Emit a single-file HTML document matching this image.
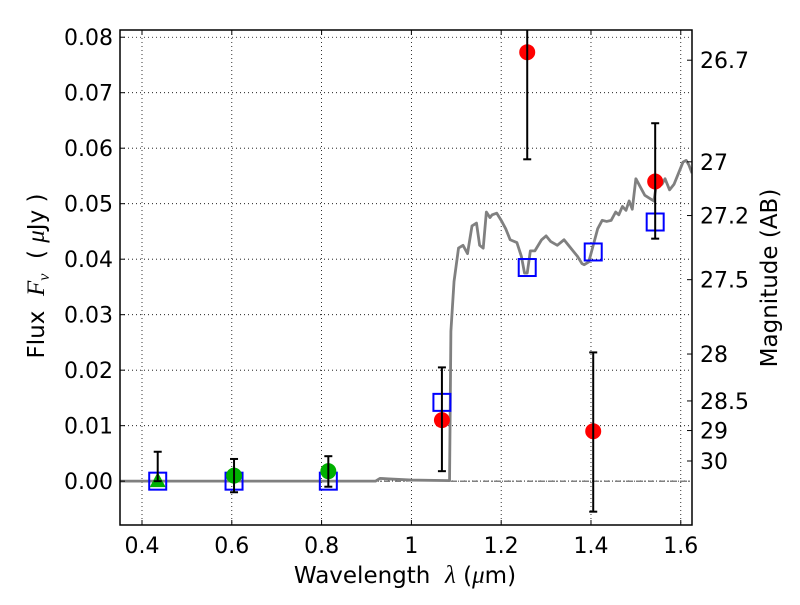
<!DOCTYPE html>
<html><head><meta charset="utf-8"><style>
body{margin:0;background:#fff}
svg{font-family:"DejaVu Sans","Liberation Sans",sans-serif}
</style></head><body>
<svg id="chart" width="800" height="600" xmlns="http://www.w3.org/2000/svg">
<rect width="800" height="600" fill="#fff"/>
<g id="grid"></g>
<g id="plot"></g>
<g id="axes"></g>
<text x="405" y="583" font-size="23" text-anchor="middle" xml:space="preserve">Wavelength  <tspan font-style="italic" font-family="Liberation Serif,serif" font-size="25">λ</tspan> (<tspan font-style="italic" font-family="Liberation Serif,serif" font-size="25">μ</tspan>m)</text>
<text transform="translate(44,276) rotate(-90)" font-size="23" text-anchor="middle" xml:space="preserve">Flux  <tspan font-style="italic" font-family="Liberation Serif,serif" font-size="25">F</tspan><tspan font-style="italic" font-family="Liberation Serif,serif" font-size="16" dy="5">ν</tspan><tspan dy="-5">  ( </tspan><tspan font-style="italic" font-family="Liberation Serif,serif" font-size="25">μ</tspan>Jy )</text>
<text transform="translate(777,278) rotate(-90)" font-size="23" text-anchor="middle">Magnitude (AB)</text>
</svg>
<script>
const xTicks=[0.4,0.6,0.8,1.0,1.2,1.4,1.6];
const xTickLabels=["0.4","0.6","0.8","1","1.2","1.4","1.6"];
const yTicks=[0,0.01,0.02,0.03,0.04,0.05,0.06,0.07,0.08];
const yTickLabels=["0.00","0.01","0.02","0.03","0.04","0.05","0.06","0.07","0.08"];
const magTicks=[26.7,27,27.2,27.5,28,28.5,29,30];
const magTickLabels=["26.7","27","27.2","27.5","28","28.5","29","30"];
const templateWave=[0.35,0.92,0.93,0.95,1.0,1.085,1.088,1.095,1.105,1.115,1.125,1.135,1.145,1.152,1.16,1.167,1.175,1.18,1.19,1.2,1.21,1.22,1.235,1.245,1.252,1.258,1.265,1.275,1.29,1.3,1.31,1.325,1.34,1.35,1.36,1.37,1.38,1.385,1.395,1.405,1.415,1.425,1.435,1.445,1.455,1.462,1.47,1.478,1.485,1.492,1.5,1.51,1.52,1.53,1.54,1.548,1.558,1.565,1.575,1.585,1.595,1.605,1.612,1.618,1.625];
const templateFlux=[0,0,0.0005,0.0004,0.0002,0.0001,0.027,0.036,0.042,0.0425,0.041,0.046,0.0465,0.0425,0.042,0.0485,0.0475,0.048,0.0483,0.047,0.0455,0.0435,0.043,0.0405,0.0375,0.0375,0.0415,0.0415,0.0435,0.0442,0.0432,0.0425,0.0435,0.0425,0.0415,0.0405,0.0392,0.039,0.0395,0.0425,0.0455,0.047,0.0468,0.047,0.0485,0.048,0.0495,0.0488,0.0505,0.049,0.0545,0.053,0.0515,0.051,0.0505,0.0545,0.0535,0.0545,0.0525,0.0535,0.0555,0.0575,0.0578,0.0570,0.0555];
const redWave=[1.068,1.258,1.405,1.543];
const redFlux=[0.011,0.0773,0.009,0.054];
const redLo=[0.0018,0.058,-0.0055,0.0437];
const redHi=[0.0205,0.09,0.0232,0.0645];
const greenWave=[0.435,0.605,0.815];
const greenFlux=[0.000,0.001,0.0018];
const greenLo=[0.000,-0.002,-0.001];
const greenHi=[0.0053,0.0040,0.0045];
const blueWave=[0.435,0.605,0.815,1.068,1.258,1.405,1.543];
const blueFlux=[0,0,0,0.0142,0.0385,0.0413,0.0467];

const L=120,R=692,T=30,B=525;
const xmin=0.351,xmax=1.625,ymin=-0.0079,ymax=0.0813;
const X=v=>L+(v-xmin)/(xmax-xmin)*(R-L);
const Y=v=>B-(v-ymin)/(ymax-ymin)*(B-T);
const NS="http://www.w3.org/2000/svg";
function mk(tag,attrs,parent){const e=document.createElementNS(NS,tag);for(const k in attrs)e.setAttribute(k,attrs[k]);parent.appendChild(e);return e;}
const grid=document.getElementById('grid'),plot=document.getElementById('plot'),axes=document.getElementById('axes');
xTicks.forEach((t,i)=>{
  const g=mk('line',{x1:X(t),x2:X(t),y1:T,y2:B,stroke:'#000','stroke-width':0.8,'stroke-dasharray':'1,3'},grid);
  
  
  mk('line',{x1:X(t),x2:X(t),y1:B,y2:B-5,stroke:'#000'},axes);
  mk('line',{x1:X(t),x2:X(t),y1:T,y2:T+5,stroke:'#000'},axes);
  const tx=mk('text',{x:X(t),y:B+28,'font-size':22,'text-anchor':'middle'},axes);tx.textContent=xTickLabels[i];
  
  
});
yTicks.forEach((t,i)=>{
  const g=mk('line',{x1:L,x2:R,y1:Y(t),y2:Y(t),stroke:'#000','stroke-width':0.8,'stroke-dasharray':'1,3'},grid);
  
  
  mk('line',{x1:L,x2:L+5,y1:Y(t),y2:Y(t),stroke:'#000'},axes);
  const tx=mk('text',{x:L-7,y:Y(t)+8,'font-size':22,'text-anchor':'end'},axes);tx.textContent=yTickLabels[i];
  
  
});
magTicks.forEach((m,i)=>{
  const f=Math.pow(10,(23.9-m)/2.5);
  mk('line',{x1:R,x2:R-5,y1:Y(f),y2:Y(f),stroke:'#000'},axes);
  const tx=mk('text',{x:R+8,y:Y(f)+8,'font-size':22},axes);tx.textContent=magTickLabels[i];
  
  
});
const clip=mk('clipPath',{id:'cp'},plot);mk('rect',{x:L,y:T,width:R-L,height:B-T},clip);
const pg=mk('g',{'clip-path':'url(#cp)'},plot);
const zl=mk('line',{x1:L,x2:R,y1:Y(0),y2:Y(0),stroke:'#000','stroke-width':0.8,'stroke-dasharray':'6,2,1,2'},pg);


const tp=mk('polyline',{points:templateWave.map((w,i)=>X(w)+','+Y(templateFlux[i])).join(' '),fill:'none',stroke:'#808080','stroke-width':2.8,'stroke-linejoin':'round'},pg);


function ebar(w,lo,hi,name){
  const g=mk('g',{},pg);
  
  
  mk('line',{x1:X(w),x2:X(w),y1:Y(lo),y2:Y(hi),stroke:'#000','stroke-width':2},g);
  mk('line',{x1:X(w)-4,x2:X(w)+4,y1:Y(lo),y2:Y(lo),stroke:'#000','stroke-width':2},g);
  mk('line',{x1:X(w)-4,x2:X(w)+4,y1:Y(hi),y2:Y(hi),stroke:'#000','stroke-width':2},g);
}
blueWave.forEach((w,i)=>{
  const r=mk('rect',{x:X(w)-8.5,y:Y(blueFlux[i])-8.5,width:17,height:17,fill:'none',stroke:'#0000ff','stroke-width':2},pg);
  
  
});
greenWave.forEach((w,i)=>{
  let m;
  if(i===0){const x=X(w),y=Y(greenFlux[i]);m=mk('polygon',{points:`${x},${y-9} ${x-8},${y+6} ${x+8},${y+6}`,fill:'#00b000'},pg);}
  else m=mk('circle',{cx:X(w),cy:Y(greenFlux[i]),r:8,fill:'#00b000'},pg);
  
  
  ebar(w,greenLo[i],greenHi[i],'optical-error-bar');
});
redWave.forEach((w,i)=>{
  const c=mk('circle',{cx:X(w),cy:Y(redFlux[i]),r:8,fill:'#ff0000'},pg);
  
  
  ebar(w,redLo[i],redHi[i],'nir-error-bar');
});
const fr=mk('rect',{x:L,y:T,width:R-L,height:B-T,fill:'none',stroke:'#000','stroke-width':1.5},axes);


</script>
</body></html>
